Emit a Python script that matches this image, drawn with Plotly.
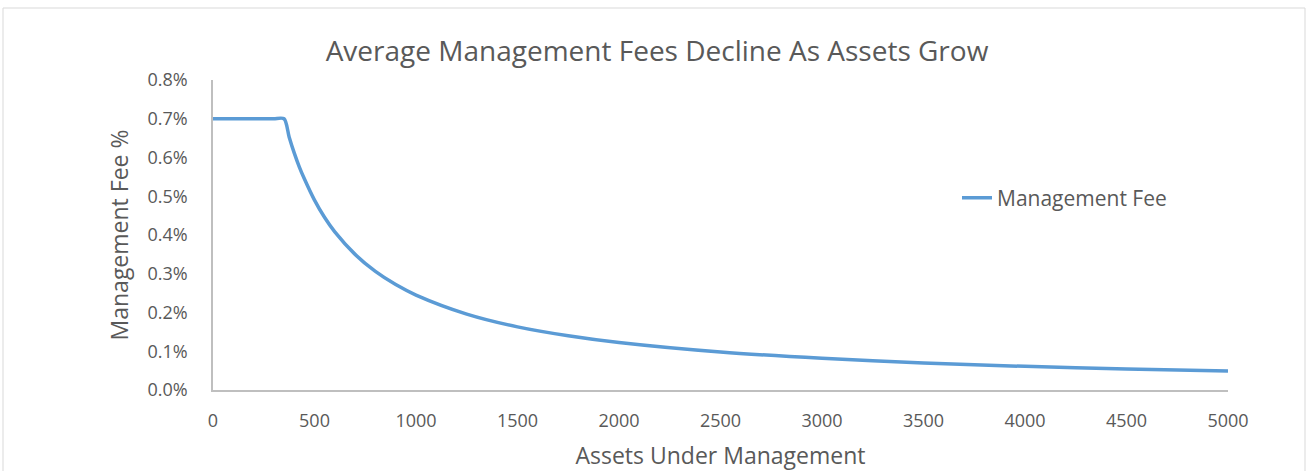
import plotly.graph_objects as go

assets = [0, 50, 100, 150, 200, 250, 300, 350, 375, 400, 425, 450, 500, 550, 600, 700, 800,
          900, 1000, 1250, 1500, 1750, 2000, 2500, 3000, 3500, 4000, 4500, 5000]
fee_pct = [0.70, 0.70, 0.70, 0.70, 0.70, 0.70, 0.70, 0.70, 0.653, 0.612, 0.576, 0.545, 0.49,
           0.445, 0.408, 0.35, 0.306, 0.272, 0.245, 0.196, 0.163, 0.14, 0.1225, 0.098, 0.082,
           0.07, 0.061, 0.0545, 0.049]
fee = [v / 100 for v in fee_pct]

title_text = "Average Management Fees Decline As Assets Grow"
x_title = "Assets Under Management"
y_title = "Management Fee %"
series_name = "Management Fee"

TXT = "#595959"
FONT = "Open Sans"

fig = go.Figure()
fig.add_trace(go.Scatter(
    x=assets, y=fee, mode="lines", name=series_name,
    line=dict(color="#5B9BD5", width=3.5, shape="spline", smoothing=0.8),
))

L, R, T, B = 213, 80, 80, 81
W, H = 1308, 471
pw, ph = W - L - R, H - T - B

def px_x(p):
    return (p - L) / pw

def px_y(p):
    return (H - B - p) / ph

fig.add_shape(type="rect", xref="paper", yref="paper",
              x0=px_x(3), x1=px_x(1305), y0=px_y(480), y1=px_y(8),
              line=dict(color="#D9D9D9", width=1), fillcolor="rgba(0,0,0,0)", layer="below")

fig.update_layout(
    width=W, height=H,
    margin=dict(l=L, r=R, t=T, b=B),
    paper_bgcolor="white", plot_bgcolor="white",
    font=dict(family=FONT, color=TXT, size=18),
    title=dict(text=title_text, x=(327 + 987) / 2 / W, xanchor="center",
               y=1 - 51 / H, yanchor="middle",
               font=dict(family=FONT, size=28, color=TXT)),
    showlegend=True,
    legend=dict(x=px_x(957), y=px_y(198), xanchor="left", yanchor="middle",
                font=dict(family=FONT, size=21, color=TXT), bgcolor="rgba(0,0,0,0)"),
    xaxis=dict(range=[0, 5000], dtick=500, tick0=0, showgrid=False, zeroline=False,
               showline=True, linecolor="#BFBFBF", linewidth=1.5, ticks="",
               automargin=False,
               ticklabelstandoff=14, tickfont=dict(size=18),
               title=dict(text=x_title, font=dict(size=23), standoff=19)),
    yaxis=dict(range=[0, 0.008], dtick=0.001, tick0=0, tickformat=".1%",
               showgrid=False, zeroline=False, showline=True, linecolor="#BFBFBF",
               linewidth=1.5, ticks="", automargin=False,
               ticklabelstandoff=20, tickfont=dict(size=18),
               title=dict(text=y_title, font=dict(size=23), standoff=12)),
)

fig.write_html("out.html", post_script="document.body.style.margin='0';",
               config={"displayModeBar": False})
